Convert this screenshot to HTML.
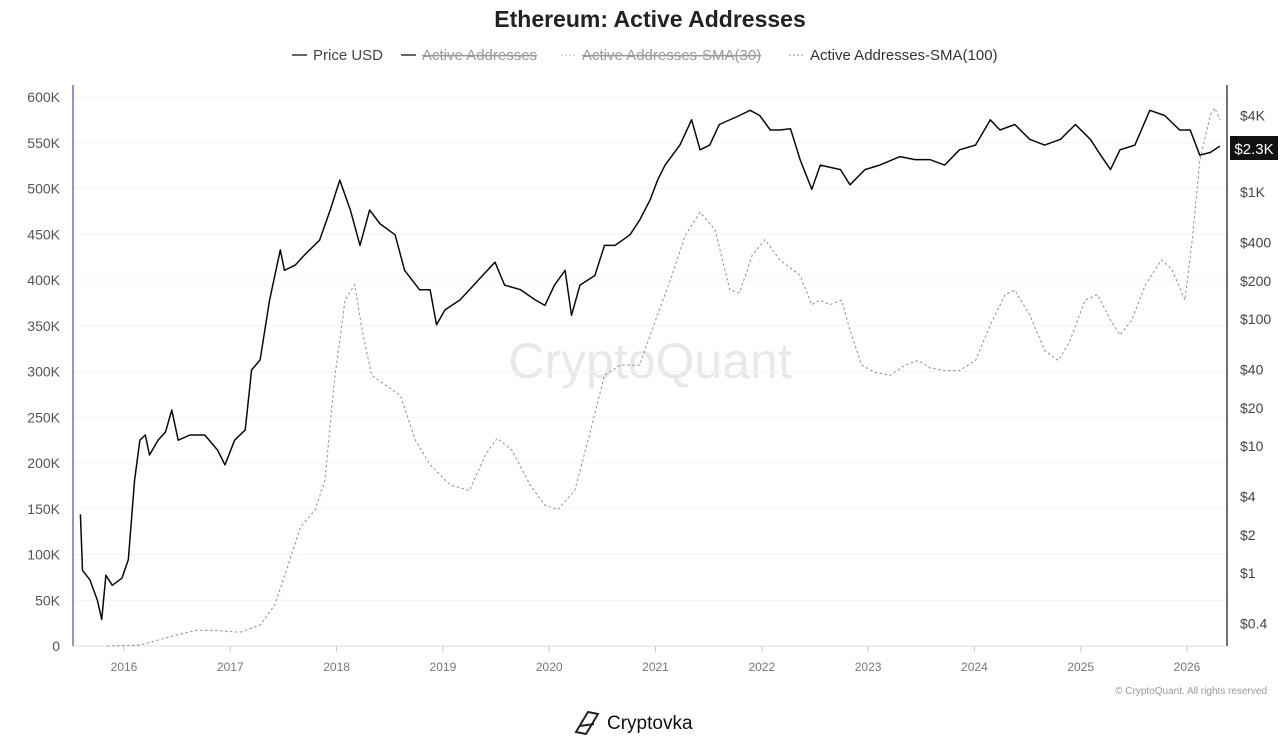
<!DOCTYPE html>
<html><head><meta charset="utf-8"><style>
html,body{margin:0;padding:0;background:#fff;width:1280px;height:740px;overflow:hidden;font-family:"Liberation Sans",sans-serif}
svg{position:absolute;left:0;top:0}
</style></head><body>
<svg id="c" width="1280" height="740">
<text x="650" y="27" text-anchor="middle" font-size="23" font-weight="bold" fill="#222">Ethereum: Active Addresses</text>
<g font-size="15" fill="#444">
 <g><line x1="292" y1="55" x2="307" y2="55" stroke="#333" stroke-width="1.5"/><text x="313" y="60">Price USD</text></g>
 <g><line x1="401" y1="55" x2="416" y2="55" stroke="#333" stroke-width="1.5"/><text x="422" y="60" fill="#999" text-decoration="line-through">Active Addresses</text></g>
 <g><line x1="561" y1="55" x2="576" y2="55" stroke="#bbb" stroke-width="1" stroke-dasharray="2,2"/><text x="582" y="60" fill="#999" text-decoration="line-through">Active Addresses-SMA(30)</text></g>
 <g><line x1="789" y1="55" x2="804" y2="55" stroke="#8a8ab0" stroke-width="1" stroke-dasharray="2,2"/><text x="810" y="60" fill="#333">Active Addresses-SMA(100)</text></g>
</g>
<text x="650" y="378" text-anchor="middle" font-size="50" fill="#e8e8e8">CryptoQuant</text>
<g id="grid"></g>
<g id="yl" font-size="14" fill="#555"></g>
<g id="yr" font-size="14" fill="#444"></g>
<g id="xa" font-size="12" fill="#777"></g>
<line x1="73" y1="85" x2="73" y2="646" stroke="#9c8fd8" stroke-width="2"/>
<line x1="1227" y1="85" x2="1227" y2="646" stroke="#444" stroke-width="1.5"/>
<path id="sma" fill="none" stroke="#8a8ab8" stroke-width="1" stroke-dasharray="2.5,2.5"/>
<path id="price" fill="none" stroke="#0a0a0a" stroke-width="1.5" stroke-linejoin="round"/>
<g><rect x="1230" y="136" width="48" height="24" fill="#111"/><text x="1254" y="154" text-anchor="middle" font-size="15" fill="#fff">$2.3K</text></g>
<text x="1267" y="694" text-anchor="end" font-size="10" fill="#999">© CryptoQuant. All rights reserved</text>
<g><path d="M576 732 L588 712 L598 714 L586 734 Z M580 726 L594 724" fill="none" stroke="#222" stroke-width="2"/><text x="607" y="729" font-size="19" fill="#111">Cryptovka</text></g>
</svg>
<script>
const leftTicks=[0,50000,100000,150000,200000,250000,300000,350000,400000,450000,500000,550000,600000];
const leftLabels=["0","50K","100K","150K","200K","250K","300K","350K","400K","450K","500K","550K","600K"];
const rightTicks=[0.4,1,2,4,10,20,40,100,200,400,1000,4000];
const rightLabels=["$0.4","$1","$2","$4","$10","$20","$40","$100","$200","$400","$1K","$4K"];
const years=[2016,2017,2018,2019,2020,2021,2022,2023,2024,2025,2026];
const priceDates=[2015.59,2015.61,2015.68,2015.75,2015.79,2015.83,2015.89,2015.98,2016.04,2016.10,2016.15,2016.20,2016.24,2016.32,2016.39,2016.45,2016.51,2016.62,2016.76,2016.88,2016.95,2017.04,2017.14,2017.20,2017.28,2017.37,2017.47,2017.51,2017.61,2017.70,2017.84,2017.94,2018.03,2018.13,2018.22,2018.31,2018.41,2018.55,2018.64,2018.78,2018.88,2018.94,2019.02,2019.16,2019.25,2019.35,2019.49,2019.58,2019.73,2019.87,2019.96,2020.05,2020.15,2020.21,2020.29,2020.43,2020.52,2020.62,2020.76,2020.85,2020.95,2021.02,2021.09,2021.23,2021.34,2021.42,2021.51,2021.60,2021.79,2021.89,2021.98,2022.08,2022.17,2022.27,2022.36,2022.47,2022.55,2022.74,2022.83,2022.97,2023.11,2023.30,2023.44,2023.58,2023.72,2023.86,2024.01,2024.15,2024.24,2024.38,2024.52,2024.66,2024.81,2024.95,2025.09,2025.18,2025.28,2025.37,2025.51,2025.65,2025.79,2025.93,2026.03,2026.12,2026.22,2026.31];
const priceValues=[2.9,1.05,0.88,0.61,0.43,0.96,0.8,0.91,1.27,5.4,11.1,12.2,8.5,11.1,12.9,19.2,11.1,12.2,12.2,9.3,7.1,11.1,13.4,39.7,47.6,141,350,242,265,320,418,720,1240,720,380,720,560,460,242,170,170,90,118,141,170,210,280,185,170,141,128,185,242,107,185,220,380,380,460,600,870,1240,1630,2340,3700,2150,2340,3400,4000,4400,4000,3080,3080,3150,1800,1050,1630,1500,1140,1500,1630,1900,1800,1800,1630,2150,2340,3700,3080,3400,2600,2340,2600,3400,2600,2000,1500,2150,2340,4400,4000,3080,3080,1950,2050,2300];
const smaDates=[2015.84,2016.15,2016.43,2016.67,2016.86,2017.09,2017.28,2017.42,2017.56,2017.66,2017.80,2017.89,2017.98,2018.08,2018.17,2018.24,2018.33,2018.46,2018.60,2018.74,2018.88,2019.07,2019.25,2019.40,2019.51,2019.65,2019.82,2019.96,2020.08,2020.24,2020.38,2020.52,2020.67,2020.85,2021.00,2021.14,2021.28,2021.42,2021.56,2021.70,2021.79,2021.91,2022.03,2022.17,2022.36,2022.47,2022.55,2022.64,2022.75,2022.83,2022.94,2023.06,2023.21,2023.35,2023.47,2023.58,2023.72,2023.86,2024.01,2024.15,2024.29,2024.38,2024.52,2024.66,2024.79,2024.90,2025.04,2025.16,2025.28,2025.37,2025.48,2025.61,2025.76,2025.86,2025.98,2026.05,2026.12,2026.22,2026.26,2026.31];
const smaValues=[0,1000,10000,17000,17000,15000,23000,45000,94000,130000,149000,181000,291000,378000,395000,345000,296000,285000,274000,225000,198000,176000,170000,209000,227000,214000,176000,154000,149000,170000,231000,296000,307000,307000,356000,400000,449000,474000,455000,389000,386000,427000,444000,422000,405000,373000,378000,373000,378000,345000,307000,299000,296000,307000,312000,304000,301000,301000,312000,351000,384000,389000,362000,323000,312000,334000,378000,384000,356000,340000,356000,395000,422000,411000,378000,444000,531000,580000,588000,575000];
const NS="http://www.w3.org/2000/svg";
const X=t=>124+(t-2016)*106.3;
const YL=v=>646-v/600000*549;
const YR=p=>573-127*Math.log10(p);
function mk(tag,attrs,parent,txt){const e=document.createElementNS(NS,tag);for(const k in attrs)e.setAttribute(k,attrs[k]);if(txt!=null)e.textContent=txt;parent.appendChild(e);return e;}
const grid=document.getElementById('grid'),yl=document.getElementById('yl'),yr=document.getElementById('yr'),xa=document.getElementById('xa');
leftTicks.forEach((v,i)=>{
 const g=mk('line',{x1:73,x2:1227,y1:YL(v),y2:YL(v),stroke:i==0?'#ddd':'#f3f3f3','stroke-width':1},grid);
 
 
 const t=mk('text',{x:60,y:YL(v)+5,'text-anchor':'end'},yl,leftLabels[i]);
 
 
});
rightTicks.forEach((p,i)=>{
 const t=mk('text',{x:1240,y:YR(p)+5},yr,rightLabels[i]);
 
 
});
years.forEach(y=>{
 const l=mk('line',{x1:X(y),x2:X(y),y1:646,y2:652,stroke:'#ccc'},xa);
 
 
 const t=mk('text',{x:X(y),y:671,'text-anchor':'middle'},xa,String(y));
 
 
});
document.getElementById('price').setAttribute('d',priceDates.map((d,i)=>(i?'L':'M')+X(d).toFixed(1)+' '+YR(priceValues[i]).toFixed(1)).join(''));
document.getElementById('sma').setAttribute('d',smaDates.map((d,i)=>(i?'L':'M')+X(d).toFixed(1)+' '+YL(smaValues[i]).toFixed(1)).join(''));
</script>
</body></html>
